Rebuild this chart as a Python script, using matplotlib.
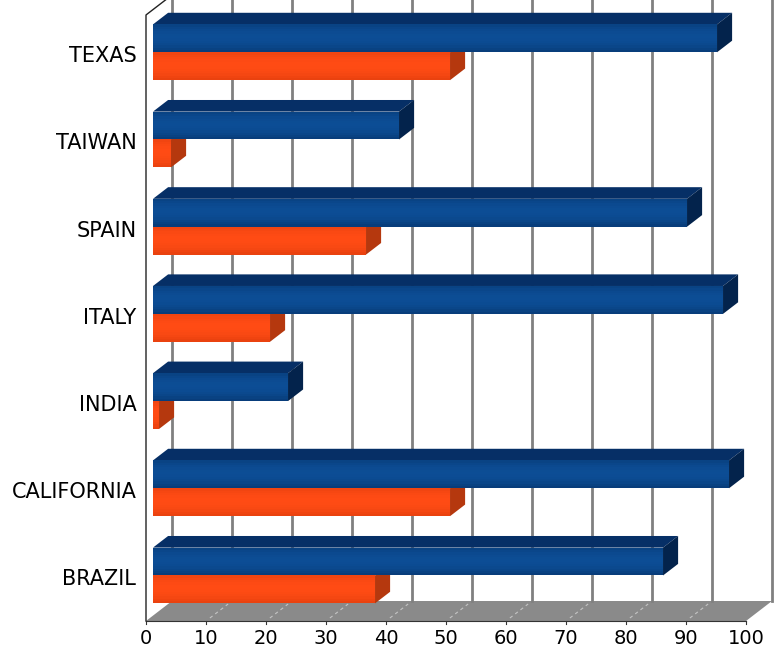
import numpy as np
import matplotlib.pyplot as plt
from matplotlib.patches import Polygon
from matplotlib.colors import to_rgb

# data
regions = ["TEXAS", "TAIWAN", "SPAIN", "ITALY", "INDIA", "CALIFORNIA", "BRAZIL"]
blue_vals = [94, 41, 89, 95, 22.5, 96, 85]
orange_vals = [49.5, 3, 35.5, 19.5, 1, 49.5, 37]
xticks = list(range(0, 101, 10))

# 3d look: depth vector in data units (x, y)
DX = 26 / 6.0
DY = 20 / 87.2
F1, F2 = 0.27, 0.85      # bar depth range
H = 0.32                 # bar thickness
SHIFT = 0.04

BLUE = ("#0c4d95", "#062f66", "#03234c", "#073a76")     # front, top, side, edge shade
ORANGE = ("#ff4b14", "#c8400f", "#b5380e", "#e6400e")


def pt(x, y, d):
    return (x + d * DX, y - d * DY)


def face(ax, pts, color, z):
    ax.add_patch(Polygon(pts, closed=True, facecolor=color, edgecolor="none",
                         zorder=z, clip_on=False))


def bar3d(ax, y0, y1, v, cols, z):
    front, top, side, shade = cols
    face(ax, [pt(0, y0, F1), pt(v, y0, F1), pt(v, y0, F2), pt(0, y0, F2)], top, z)
    face(ax, [pt(v, y0, F1), pt(v, y1, F1), pt(v, y1, F2), pt(v, y0, F2)], side, z)
    # front face with a soft vertical gradient (darker at the edges)
    n = 12
    edges = np.linspace(y0, y1, n + 1)
    c_mid, c_edge = np.array(to_rgb(front)), np.array(to_rgb(shade))
    for j in range(n):
        t = abs((j + 0.5) / n - 0.45) / 0.55
        col = c_mid * (1 - t ** 2) + c_edge * t ** 2
        face(ax, [pt(0, edges[j], F1), pt(v, edges[j], F1),
                  pt(v, edges[j + 1], F1), pt(0, edges[j + 1], F1)], col, z + 0.1)


fig = plt.figure(figsize=(7.74, 6.49), dpi=100)
ax = fig.add_axes([146 / 774, 1 - 621 / 649, 600 / 774, (621 - 10.6) / 649])
ax.set_xlim(0, 100)
ax.set_ylim(6.5, -0.5)
for s in ax.spines.values():
    s.set_visible(False)

floor_y = 6.5
top_y = -0.5

# floor
face(ax, [pt(0, floor_y, 0), pt(100, floor_y, 0), pt(100, floor_y, 1), pt(0, floor_y, 1)],
     "#8a8a8a", 1)
for k in xticks[1:-1]:
    a, b = pt(k, floor_y, 0.15), pt(k, floor_y, 0.85)
    ax.plot([a[0], b[0]], [a[1], b[1]], color="#c4c4c4", lw=0.8, ls=(0, (3, 3)),
            zorder=1.5, clip_on=False)
a, b = pt(0, floor_y, 0), pt(100, floor_y, 0)
ax.plot([a[0], b[0]], [a[1], b[1]], color="#333333", lw=0.8, zorder=1.6, clip_on=False)
for k in xticks:
    ax.plot([k, k], [floor_y, floor_y + 0.03], color="#333333", lw=0.8, zorder=1.6,
            clip_on=False)

# back wall gridlines
for k in xticks:
    a, b = pt(k, floor_y, 1), pt(k, top_y, 1)
    ax.plot([a[0], b[0]], [a[1], b[1]], color="#808080", lw=2.0, zorder=1.2,
            clip_on=False)

# left wall edges
a, b, c = pt(0, floor_y, 0), pt(0, top_y + 0.05, 0), pt(0, top_y + 0.05, 1)
ax.plot([a[0], b[0], c[0]], [a[1], b[1], c[1]], color="#222222", lw=1.0, zorder=1.7,
        clip_on=False)

# bars
for i, (bv, ov) in enumerate(zip(blue_vals, orange_vals)):
    c = i + SHIFT
    bar3d(ax, c, c + H, ov, ORANGE, 3)
    bar3d(ax, c - H, c, bv, BLUE, 4)

ax.set_yticks(range(len(regions)))
ax.set_yticklabels(regions)
ax.set_xticks(xticks)
ax.set_xticklabels([str(k) for k in xticks])
ax.tick_params(axis="y", length=0, pad=7, labelsize=15)
ax.tick_params(axis="x", length=0, pad=6, labelsize=14)

fig.savefig("out.png", dpi=100, facecolor="white")
